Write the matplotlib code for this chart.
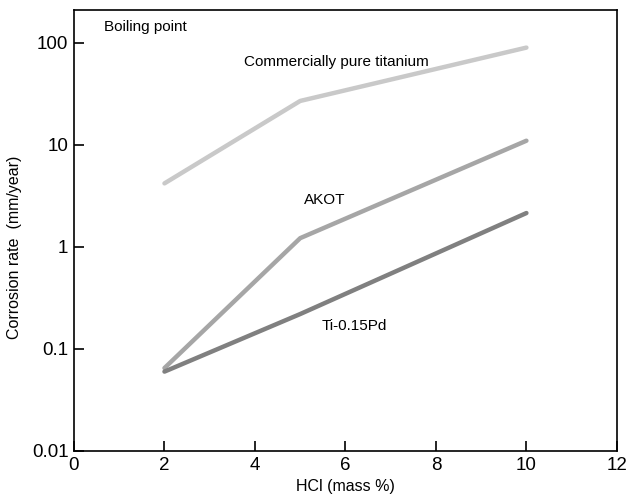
import matplotlib

matplotlib.use("Agg")
import matplotlib.pyplot as plt
from matplotlib.ticker import FixedLocator, FixedFormatter, NullLocator

plt.rcParams["font.family"] = ["Liberation Sans", "DejaVu Sans"]

# HCl concentration (mass %) and corrosion rates (mm/year)
HCL = [2, 5, 10]
CP_TI = [4.2, 27, 90]
AKOT = [0.065, 1.22, 11]
TI_PD = [0.06, 0.22, 2.15]

SERIES = [
    ("Commercially pure titanium", CP_TI, "#c9c9c9"),
    ("AKOT", AKOT, "#a6a6a6"),
    ("Ti-0.15Pd", TI_PD, "#808080"),
]

X_TICKS = [0, 2, 4, 6, 8, 10, 12]
Y_TICKS = [0.01, 0.1, 1, 10, 100]
Y_LABELS = ["0.01", "0.1", "1", "10", "100"]


def main() -> None:
    fig = plt.figure(figsize=(6.35, 5.03), dpi=100)
    ax = fig.add_axes([0.1165, 0.1034, 0.855, 0.8766])
    ax.set_yscale("log")

    for label, vals, color in SERIES:
        ax.plot(HCL, vals, color=color, linewidth=3.2, solid_capstyle="round",
                solid_joinstyle="round")

    ax.set_xlim(0, 12)
    ax.set_ylim(0.01, 210)
    ax.xaxis.set_major_locator(FixedLocator(X_TICKS))
    ax.yaxis.set_major_locator(FixedLocator(Y_TICKS))
    ax.yaxis.set_major_formatter(FixedFormatter(Y_LABELS))
    ax.yaxis.set_minor_locator(NullLocator())
    ax.tick_params(direction="in", length=7, width=1.2, labelsize=13.5, pad=4)

    for spine in ax.spines.values():
        spine.set_linewidth(1.2)

    ax.set_xlabel("HCl (mass %)", fontsize=11.5, labelpad=4)
    ax.set_ylabel("Corrosion rate  (mm/year)", fontsize=11.5)
    ax.yaxis.set_label_coords(-0.095, 0.463)

    ax.text(0.66, 143, "Boiling point", fontsize=11, va="center", ha="left")
    ax.text(5.8, 65, "Commercially pure titanium", fontsize=11, va="center", ha="center")
    ax.text(5.54, 2.9, "AKOT", fontsize=11, va="center", ha="center")
    ax.text(6.2, 0.168, "Ti-0.15Pd", fontsize=11, va="center", ha="center")

    fig.savefig("out.png", dpi=100)


if __name__ == "__main__":
    main()
